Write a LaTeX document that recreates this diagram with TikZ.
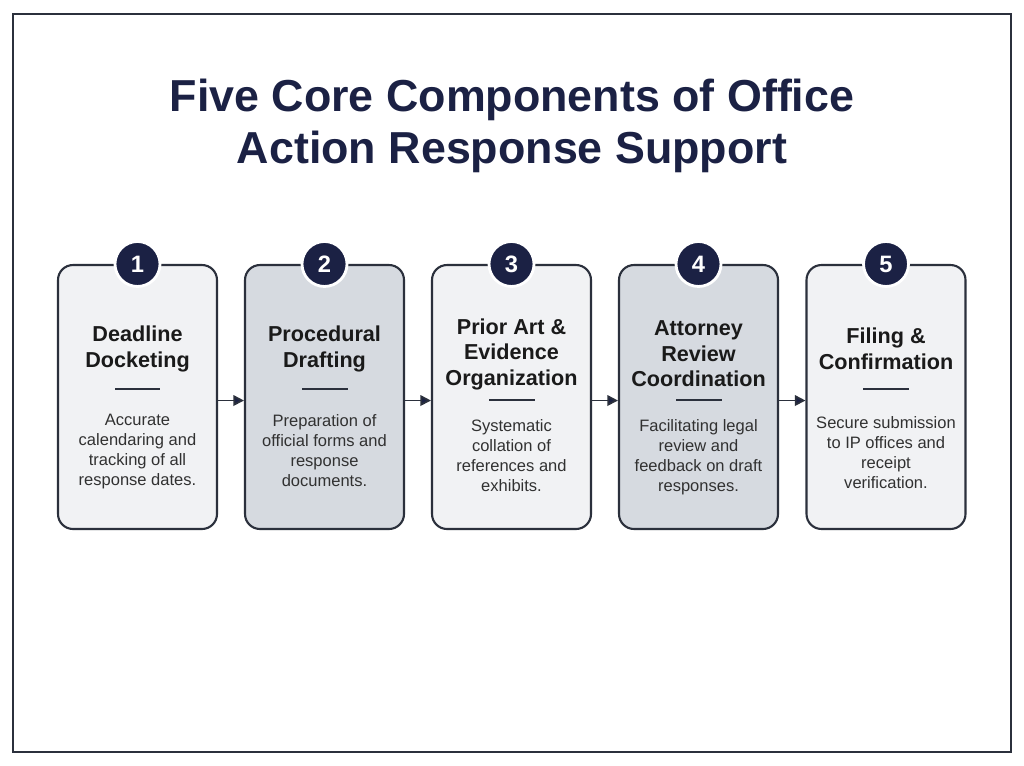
\documentclass[tikz,border=0pt]{standalone}
\usepackage{fontspec}
\setmainfont{Liberation Sans}
\usetikzlibrary{positioning,arrows.meta}
\definecolor{navy}{HTML}{1B2144}
\definecolor{edge}{HTML}{2B303C}
\definecolor{paleBox}{HTML}{F1F2F4}
\definecolor{greyBox}{HTML}{D6DAE0}
\definecolor{ink}{HTML}{1A1A1A}
\tikzset{
  stage/.style={draw=edge, line width=1.2pt, rounded corners=8.5pt, minimum width=3.18cm, minimum height=5.28cm},
  badge/.style={circle, fill=navy, draw=white, line width=1.6pt, minimum size=0.9cm, inner sep=0pt, text=white, font=\fontsize{13.5}{13.5}\selectfont\bfseries},
  head/.style={align=center, inner sep=0pt, text=ink, font=\fontsize{12.3}{14.5}\selectfont\bfseries},
  rule/.style={fill=edge, minimum width=0.92cm, minimum height=1pt, inner sep=0pt},
  blurb/.style={align=center, inner sep=0pt, anchor=north, text=ink!90, font=\fontsize{9.4}{11.4}\selectfont},
  flow/.style={draw=edge, line width=1pt, -{Triangle[length=6pt, width=6pt, fill=navy]}}
}
\begin{document}
\begin{tikzpicture}[x=0.02cm, y=-0.02cm]
\useasboundingbox (0,0) rectangle (1024,765);
\fill[white] (0,0) rectangle (1024,765);
\draw[edge, line width=1pt] (13,14) rectangle (1011,752);

% title
\node[align=center, text=navy, font=\fontsize{25.5}{30}\selectfont\bfseries] (title) at (512,126) {Five Core Components of Office\\Action Response Support};

% the five stages
\node[stage, fill=paleBox] (b1) at (137.5,397) {};
\node[stage, fill=greyBox] (b2) at (324.5,397) {};
\node[stage, fill=paleBox] (b3) at (511.5,397) {};
\node[stage, fill=greyBox] (b4) at (698.5,397) {};
\node[stage, fill=paleBox] (b5) at (886,397) {};

\node[badge] (n1) at (b1.north) {1};
\node[badge] (n2) at (b2.north) {2};
\node[badge] (n3) at (b3.north) {3};
\node[badge] (n4) at (b4.north) {4};
\node[badge] (n5) at (b5.north) {5};

\node[head] (h1) at (137.5,349) {Deadline\\Docketing};
\node[head] (h2) at (324.5,349) {Procedural\\Drafting};
\node[head] (h3) at (511.5,354) {Prior Art \&\\Evidence\\Organization};
\node[head] (h4) at (698.5,354) {Attorney\\Review\\Coordination};
\node[head] (h5) at (886,349) {Filing \&\\Confirmation};

\node[rule] (r1) at (137.5,389) {};
\node[rule] (r2) at (324.5,389) {};
\node[rule] (r3) at (511.5,400) {};
\node[rule] (r4) at (698.5,400) {};
\node[rule] (r5) at (886,389) {};

\node[blurb] (d1) at (137.5,414) {Accurate\\calendaring and\\tracking of all\\response dates.};
\node[blurb] (d2) at (324.5,414) {Preparation of\\official forms and\\response\\documents.};
\node[blurb] (d3) at (511.5,419) {Systematic\\collation of\\references and\\exhibits.};
\node[blurb] (d4) at (698.5,419) {Facilitating legal\\review and\\feedback on draft\\responses.};
\node[blurb] (d5) at (886,416) {Secure submission\\to IP offices and\\receipt\\verification.};

% arrows between stages
\draw[flow] ([yshift=-2pt]b1.east) -- ([yshift=-2pt]b2.west);
\draw[flow] ([yshift=-2pt]b2.east) -- ([yshift=-2pt]b3.west);
\draw[flow] ([yshift=-2pt]b3.east) -- ([yshift=-2pt]b4.west);
\draw[flow] ([yshift=-2pt]b4.east) -- ([yshift=-2pt]b5.west);
\end{tikzpicture}
\end{document}
